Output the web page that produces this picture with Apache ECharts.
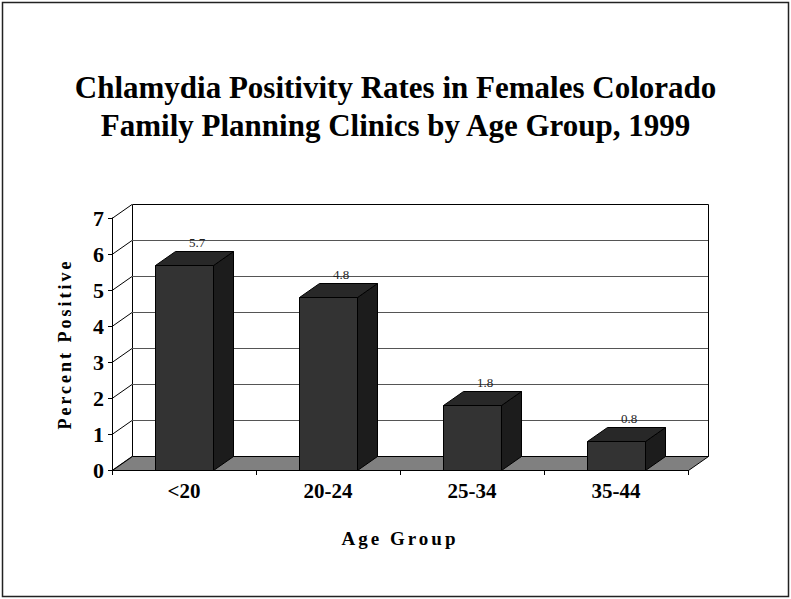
<!DOCTYPE html>
<html><head><meta charset="utf-8">
<script src="https://cdn.jsdelivr.net/npm/echarts@6/dist/echarts.min.js"></script>
<style>html,body{margin:0;padding:0;background:#fff}#c{width:791px;height:599px}</style>
</head><body><div id="c"></div>
<script>
// ---- data ----
const categories = ['<20', '20-24', '25-34', '35-44'];
const positivity = [5.7, 4.8, 1.8, 0.8];
const yTicks = [0, 1, 2, 3, 4, 5, 6, 7];
const titleLines = ['Chlamydia Positivity Rates in Females Colorado', 'Family Planning Clinics by Age Group, 1999'];
const xTitle = 'Age Group';
const yTitle = 'Percent Positive';

// ---- styling ----
const DX = 20, DY = -14;
const FONT = '"Liberation Serif","Times New Roman",serif';

function renderWall(params, api) {
  const cs = params.coordSys;
  const x0 = Math.round(cs.x), x1 = Math.round(cs.x + cs.width);
  const yBase = Math.round(api.coord([0, yTicks[0]])[1]);
  const yTop = Math.round(api.coord([0, yTicks[yTicks.length - 1]])[1]);
  const ch = [];
  ch.push({type: 'polygon', shape: {points: [[x0, yTop], [x0 + DX, yTop + DY], [x0 + DX, yBase + DY], [x0, yBase]]},
    style: {fill: '#fff'}});
  ch.push({type: 'rect', shape: {x: x0 + DX + 0.5, y: yTop + DY + 0.5, width: x1 - x0, height: yBase - yTop},
    style: {fill: '#fff', stroke: '#000', lineWidth: 1}});
  yTicks.forEach(v => {
    const y = Math.round(api.coord([0, v])[1]);
    if (v > yTicks[0] && v < yTicks[yTicks.length - 1]) {
      ch.push({type: 'line', shape: {x1: x0 + DX, y1: y + DY + 0.5, x2: x1 + DX, y2: y + DY + 0.5},
        style: {stroke: '#555', lineWidth: 1}});
    }
    ch.push({type: 'line', shape: {x1: x0, y1: y + 0.5, x2: x0 + DX, y2: y + DY + 0.5},
      style: {stroke: '#000', lineWidth: 1}});
  });
  ch.push({type: 'polygon', shape: {points: [[x0 + 0.5, yBase + 0.5], [x1 + 0.5, yBase + 0.5], [x1 + DX + 0.5, yBase + DY + 0.5], [x0 + DX + 0.5, yBase + DY + 0.5]]},
    style: {fill: '#808080', stroke: '#000', lineWidth: 1}});
  return {type: 'group', children: ch};
}

function renderBar(params, api) {
  const idx = api.value(0), val = api.value(1);
  const top = api.coord([idx, val]);
  const base = api.coord([idx, 0]);
  const w = api.size([1, 0])[0] * 0.4;
  const xa = Math.round(top[0] - w / 2) + 0.5, xb = Math.round(top[0] + w / 2) + 0.5;
  const yt = Math.round(top[1]) + 0.5, yb = Math.round(base[1]) + 0.5;
  const edge = {stroke: '#000', lineWidth: 1, lineJoin: 'miter'};
  return {type: 'group', children: [
    {type: 'polygon', shape: {points: [[xb, yt], [xb + DX, yt + DY], [xb + DX, yb + DY], [xb, yb]]},
      style: Object.assign({fill: '#1c1c1c'}, edge)},
    {type: 'polygon', shape: {points: [[xa, yt], [xa + DX, yt + DY], [xb + DX, yt + DY], [xb, yt]]},
      style: Object.assign({fill: '#282828'}, edge)},
    {type: 'rect', shape: {x: xa, y: yt, width: xb - xa, height: yb - yt},
      style: Object.assign({fill: '#333333'}, edge)},
    {type: 'text', style: {text: String(val), x: top[0] + DX / 2 + 3, y: yt + DY - 3,
      align: 'center', verticalAlign: 'bottom', fill: '#222', fontFamily: FONT, fontSize: 13}}
  ]};
}

const chart = echarts.init(document.getElementById('c'), null, {renderer: 'svg'});
chart.setOption({
  animation: false,
  backgroundColor: '#fff',
  title: {
    text: titleLines.join('\n'), left: 'center', top: 63,
    textStyle: {fontFamily: FONT, fontSize: 31, fontWeight: 'bold', lineHeight: 38, color: '#000'}
  },
  graphic: [{type: 'rect', shape: {x: 2.5, y: 2.5, width: 786, height: 594},
    style: {fill: 'none', stroke: '#222', lineWidth: 1.5}, z: 100, silent: true}],
  grid: {left: 112, right: 103, top: 218, bottom: 129},
  xAxis: {
    type: 'category', data: categories, z: 10,
    axisLine: {lineStyle: {color: '#000', width: 1}},
    axisTick: {show: true, length: 5, lineStyle: {color: '#000'}},
    axisLabel: {fontFamily: FONT, fontSize: 21, fontWeight: 'bold', color: '#000', margin: 10},
    name: xTitle, nameLocation: 'middle', nameGap: 59,
    nameTextStyle: {fontFamily: FONT, fontSize: 19, fontWeight: 'bold', color: '#000'},
    splitLine: {show: false}
  },
  yAxis: {
    type: 'value', min: 0, max: 7, interval: 1, z: 10,
    axisLine: {show: true, lineStyle: {color: '#000', width: 1}},
    axisTick: {show: true, length: 4, lineStyle: {color: '#000'}},
    axisLabel: {fontFamily: FONT, fontSize: 22, fontWeight: 'bold', color: '#000', margin: 8},
    splitLine: {show: false},
    name: yTitle, nameLocation: 'middle', nameRotate: 90, nameGap: 38,
    nameTextStyle: {fontFamily: FONT, fontSize: 18, fontWeight: 'bold', color: '#000'}
  },
  series: [
    {type: 'custom', renderItem: renderWall, data: [[0, 0]], z: 1, silent: true, clip: false},
    {type: 'custom', renderItem: renderBar, data: positivity.map((v, i) => [i, v]), z: 3, silent: true, clip: false}
  ]
});

// spaced-out axis titles, as in the reference
function spaceTitles() {
  document.querySelectorAll('#c text').forEach(t => {
    const s = t.textContent;
    if (s === xTitle || s === yTitle) t.style.letterSpacing = '3px';
  });
}
chart.on('finished', spaceTitles);
spaceTitles();
requestAnimationFrame(spaceTitles);
setTimeout(spaceTitles, 50);
</script></body></html>
